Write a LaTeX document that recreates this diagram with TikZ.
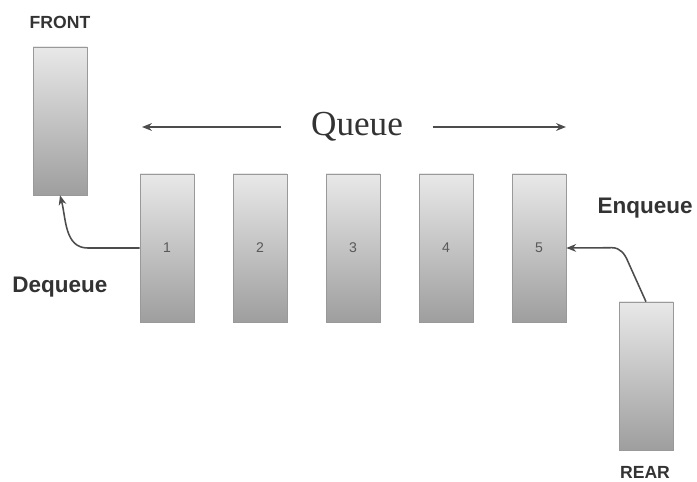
\documentclass[tikz,border=0pt]{standalone}
\usepackage{fontspec}
\setmainfont{Liberation Serif}
\setsansfont{Liberation Sans}
\usepackage{tikz}
\usetikzlibrary{arrows.meta}
\colorlet{CInk}{black!80}
\colorlet{CEdge}{black!40}

\tikzset{
    cell/.style={draw=CEdge, top color=black!9, bottom color=black!38,
                 minimum width=54*0.025cm, minimum height=148*0.025cm,
                 inner sep=0pt, font=\sffamily\fontsize{10}{10}\selectfont, text=black!65},
    tag/.style={font=\sffamily\bfseries\fontsize{12.5}{12.5}\selectfont, text=CInk},
    action/.style={font=\sffamily\bfseries\fontsize{16}{16}\selectfont, text=CInk},
    link/.style={draw=black!70, line width=1.1pt, -{Stealth[length=7pt, width=5.5pt]}}
}

\begin{document}
\begin{tikzpicture}[x=0.025cm, y=0.025cm]
    \useasboundingbox (0, 0) rectangle (697, 481);

    \node [tag] (fronttag) at (60, 459) {FRONT};
    \node [cell] (front) at (60, 360) {};

    \node [font=\fontsize{25}{25}\selectfont, text=CInk, inner xsep=21pt] (queue) at (357, 354) {Queue};
    \coordinate (qleft)  at (142, 354);
    \coordinate (qright) at (566, 354);
    \draw [link] (queue.west) -- (qleft);
    \draw [link] (queue.east) -- (qright);

    \node [cell] (c1) at (167, 233) {1};
    \node [cell] (c2) at (260, 233) {2};
    \node [cell] (c3) at (353, 233) {3};
    \node [cell] (c4) at (446, 233) {4};
    \node [cell] (c5) at (539, 233) {5};

    \node [action] (deq) at (60, 194) {Dequeue};
    \node [action] (enq) at (645, 273) {Enqueue};

    \node [cell] (rear) at (646, 105) {};
    \node [tag] (reartag) at (645, 9) {REAR};

    % dequeue leaves from the head, enqueue comes in at the tail
    \draw [link] (c1.west) -- ++(-52, 0) to[out=180, in=-75] (front.south);
    \draw [link] (rear.north) -- ++(-18, 40) to[out=112, in=0] ++(-16, 14) -- (c5.east);
\end{tikzpicture}
\end{document}
